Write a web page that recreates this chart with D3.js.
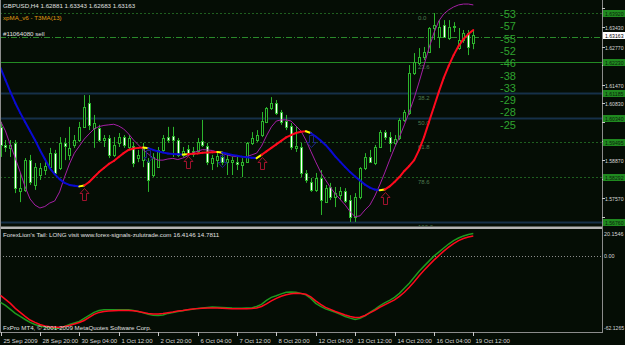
<!DOCTYPE html>
<html>
<head>
<meta charset="utf-8">
<script src="https://cdnjs.cloudflare.com/ajax/libs/d3/7.8.5/d3.min.js"></script>
<style>
  body { margin: 0; background: #050d05; }
  svg { display: block; font-family: "Liberation Sans", Arial, sans-serif; }
</style>
</head>
<body>
<script>
// GBPUSD H4, 25 Sep 2009 12:00 .. 19 Oct 2009 12:00 (97 bars)
var symbol = "GBPUSD,H4";
var timeLabels = ["25 Sep 2009", "28 Sep 20:00", "30 Sep 04:00", "1 Oct 12:00", "2 Oct 20:00",
    "6 Oct 04:00", "7 Oct 12:00", "8 Oct 20:00", "12 Oct 04:00", "13 Oct 12:00",
    "14 Oct 20:00", "16 Oct 04:00", "19 Oct 12:00"];
var priceTicks = [1.64090, 1.63430, 1.62770, 1.62130, 1.61470, 1.60830, 1.60170,
    1.59530, 1.58870, 1.58230, 1.57570, 1.56930];

var open = [1.6002, 1.5940, 1.5930, 1.5947, 1.5782, 1.5786, 1.5888, 1.5803, 1.5837, 1.5854,
    1.5864, 1.5912, 1.5861, 1.5947, 1.5906, 1.5940, 1.5957, 1.6002, 1.6084, 1.5998,
    1.5998, 1.5957, 1.5964, 1.5906, 1.5947, 1.5967, 1.5933, 1.5936, 1.5895, 1.5888,
    1.5881, 1.5837, 1.5864, 1.5923, 1.5967, 1.5971, 1.5957, 1.5906, 1.5926, 1.5919,
    1.5919, 1.5954, 1.5936, 1.5878, 1.5888, 1.5899, 1.5881, 1.5881, 1.5881, 1.5871,
    1.5881, 1.5947, 1.5957, 1.5974, 1.6019, 1.6067, 1.6084, 1.6053, 1.6022, 1.6005,
    1.5930, 1.5933, 1.5844, 1.5813, 1.5786, 1.5827, 1.5744, 1.5796, 1.5761, 1.5768,
    1.5782, 1.5751, 1.5693, 1.5761, 1.5861, 1.5899, 1.5878, 1.5933, 1.5984, 1.5967,
    1.5947, 1.5964, 1.6026, 1.6050, 1.6186, 1.6221, 1.6241, 1.6259, 1.6341, 1.6310,
    1.6351, 1.6307, 1.6348, 1.6272, 1.6300, 1.6324, 1.62881];
var high = [1.6019, 1.5957, 1.5957, 1.5957, 1.5844, 1.5895, 1.5906, 1.5878, 1.5878, 1.5881,
    1.5930, 1.5923, 1.5967, 1.5964, 1.6002, 1.5974, 1.6019, 1.6111, 1.6111, 1.6043,
    1.6009, 1.5974, 1.5974, 1.5967, 1.5981, 1.5974, 1.5974, 1.5950, 1.5923, 1.5947,
    1.5895, 1.5912, 1.5933, 1.5974, 1.6002, 1.6002, 1.5964, 1.5933, 1.5940, 1.5933,
    1.5964, 1.6026, 1.5947, 1.5906, 1.5912, 1.5912, 1.5906, 1.5899, 1.5899, 1.5895,
    1.5950, 1.5984, 1.5991, 1.6053, 1.6070, 1.6104, 1.6094, 1.6060, 1.6043, 1.6015,
    1.6002, 1.5947, 1.5854, 1.5827, 1.5844, 1.5854, 1.5803, 1.5810, 1.5796, 1.5796,
    1.5792, 1.5768, 1.5775, 1.5864, 1.5912, 1.5923, 1.5940, 1.5991, 1.5991, 1.5984,
    1.5974, 1.6032, 1.6060, 1.6214, 1.6255, 1.6272, 1.6276, 1.6344, 1.6392, 1.6368,
    1.6368, 1.6368, 1.6361, 1.6341, 1.6334, 1.6334, 1.63343];
var low = [1.5899, 1.5916, 1.5899, 1.5775, 1.5744, 1.5779, 1.5803, 1.5786, 1.5820, 1.5837,
    1.5854, 1.5837, 1.5854, 1.5888, 1.5888, 1.5930, 1.5950, 1.5998, 1.5991, 1.5930,
    1.5950, 1.5933, 1.5895, 1.5899, 1.5933, 1.5930, 1.5923, 1.5864, 1.5881, 1.5864,
    1.5779, 1.5830, 1.5861, 1.5916, 1.5947, 1.5899, 1.5899, 1.5899, 1.5906, 1.5899,
    1.5912, 1.5933, 1.5871, 1.5854, 1.5864, 1.5871, 1.5837, 1.5837, 1.5854, 1.5830,
    1.5878, 1.5940, 1.5950, 1.5967, 1.6015, 1.6060, 1.6043, 1.6009, 1.5991, 1.5923,
    1.5916, 1.5830, 1.5810, 1.5779, 1.5779, 1.5700, 1.5741, 1.5751, 1.5727, 1.5751,
    1.5741, 1.5676, 1.5676, 1.5754, 1.5854, 1.5878, 1.5871, 1.5930, 1.5957, 1.5916,
    1.5940, 1.5957, 1.6019, 1.6043, 1.6180, 1.6214, 1.6231, 1.6255, 1.6300, 1.6272,
    1.6307, 1.6300, 1.6327, 1.6266, 1.6290, 1.6248, 1.62683];
var close = [1.5940, 1.5933, 1.5940, 1.5792, 1.5792, 1.5888, 1.5813, 1.5864, 1.5861, 1.5868,
    1.5912, 1.5844, 1.5947, 1.5936, 1.5930, 1.5957, 1.6002, 1.6070, 1.6009, 1.6015,
    1.5957, 1.5964, 1.5906, 1.5940, 1.5967, 1.5940, 1.5964, 1.5878, 1.5906, 1.5930,
    1.5820, 1.5899, 1.5923, 1.5964, 1.5957, 1.5957, 1.5906, 1.5919, 1.5912, 1.5909,
    1.5950, 1.5940, 1.5881, 1.5895, 1.5902, 1.5881, 1.5892, 1.5888, 1.5875, 1.5881,
    1.5947, 1.5964, 1.5974, 1.6022, 1.6067, 1.6084, 1.6050, 1.6019, 1.6002, 1.5933,
    1.5936, 1.5844, 1.5820, 1.5786, 1.5827, 1.5751, 1.5792, 1.5761, 1.5775, 1.5782,
    1.5748, 1.5693, 1.5761, 1.5861, 1.5899, 1.5881, 1.5933, 1.5984, 1.5967, 1.5947,
    1.5960, 1.6026, 1.6053, 1.6186, 1.6224, 1.6241, 1.6259, 1.6341, 1.6351, 1.6344,
    1.6310, 1.6344, 1.6344, 1.6300, 1.6324, 1.6276, 1.63163];

// xpMA_v6 - T3MA(13)
var t3ma = [1.6204, 1.6163, 1.6122, 1.6084, 1.6050, 1.6019, 1.5988, 1.5957, 1.5923, 1.5892,
    1.5861, 1.5840, 1.5823, 1.5810, 1.5803, 1.5800, 1.5798, 1.5801, 1.5813, 1.5830,
    1.5847, 1.5861, 1.5875, 1.5885, 1.5899, 1.5912, 1.5923, 1.5928, 1.5930, 1.5931,
    1.5929, 1.5923, 1.5918, 1.5914, 1.5911, 1.5909, 1.5908, 1.5907, 1.5908, 1.5910,
    1.5911, 1.5913, 1.5914, 1.5915, 1.5916, 1.5914, 1.5910, 1.5906, 1.5903, 1.5900,
    1.5898, 1.5896, 1.5895, 1.5906, 1.5918, 1.5930, 1.5942, 1.5954, 1.5966, 1.5974,
    1.5981, 1.5985, 1.5987, 1.5981, 1.5969, 1.5955, 1.5940, 1.5921, 1.5900, 1.5882,
    1.5864, 1.5847, 1.5832, 1.5818, 1.5804, 1.5794, 1.5787, 1.5785, 1.5787, 1.5798,
    1.5813, 1.5830, 1.5851, 1.5868, 1.5888, 1.5923, 1.5967, 1.6019, 1.6070, 1.6122,
    1.6170, 1.6211, 1.6248, 1.6279, 1.6303, 1.6320, 1.6334];

// fast magenta average
var xpma = [1.6022, 1.5988, 1.5940, 1.5895, 1.5847, 1.5796, 1.5755, 1.5734, 1.5724, 1.5729,
    1.5741, 1.5748, 1.5779, 1.5830, 1.5875, 1.5912, 1.5936, 1.5960, 1.5978, 1.5995,
    1.6003, 1.6007, 1.6009, 1.6011, 1.6005, 1.5995, 1.5978, 1.5957, 1.5940, 1.5923,
    1.5909, 1.5895, 1.5888, 1.5888, 1.5892, 1.5894, 1.5890, 1.5895, 1.5902, 1.5912,
    1.5919, 1.5924, 1.5923, 1.5921, 1.5916, 1.5911, 1.5906, 1.5902, 1.5900, 1.5900,
    1.5900, 1.5906, 1.5912, 1.5936, 1.5971, 1.6002, 1.6022, 1.6026, 1.6026, 1.6022,
    1.6005, 1.5988, 1.5957, 1.5919, 1.5882, 1.5847, 1.5820, 1.5794, 1.5772, 1.5753,
    1.5734, 1.5711, 1.5694, 1.5697, 1.5717, 1.5734, 1.5765, 1.5803, 1.5844, 1.5888,
    1.5930, 1.5967, 1.6009, 1.6053, 1.6101, 1.6156, 1.6214, 1.6272, 1.6324, 1.6365,
    1.6389, 1.6403, 1.6413, 1.6420, 1.6423, 1.6423, 1.6420];

// ForexLion's Tail
var tailGreen = [-38.3, -40.7, -44.0, -47.3, -49.8, -52.3, -54.7, -56.4, -57.6, -58.4,
    -59.1, -59.4, -59.2, -58.0, -56.4, -55.1, -53.9, -51.4, -49.0, -46.5,
    -44.9, -44.4, -44.4, -44.3, -44.3, -44.4, -44.4, -44.9, -45.7, -46.9,
    -48.1, -48.8, -49.0, -48.6, -47.3, -46.5, -45.7, -45.1, -44.4, -43.9,
    -43.2, -42.8, -42.4, -42.1, -42.2, -42.4, -42.6, -42.9, -43.0, -43.0,
    -42.9, -42.8, -41.6, -39.9, -36.6, -34.2, -32.9, -31.3, -30.0, -29.8,
    -30.0, -30.9, -32.1, -35.0, -39.1, -41.6, -43.6, -44.9, -46.5, -48.1,
    -49.8, -51.2, -52.3, -51.4, -49.4, -46.5, -44.0, -41.1, -38.7, -36.6,
    -34.2, -30.9, -26.7, -22.6, -17.7, -12.8, -8.6, -4.5, -0.4, 2.9,
    6.2, 9.5, 12.3, 14.4, 16.0, 17.3, 18.1];
var tailRed = [-32.5, -35.8, -39.1, -43.2, -46.5, -49.8, -52.7, -54.7, -56.4, -57.6,
    -58.3, -58.7, -58.6, -58.0, -57.2, -56.0, -54.7, -53.1, -50.6, -48.1,
    -46.5, -45.7, -45.3, -45.1, -44.9, -44.9, -44.9, -45.1, -45.7, -46.5,
    -47.3, -47.7, -47.7, -47.3, -46.7, -46.1, -45.4, -44.9, -44.3, -43.8,
    -43.4, -43.0, -42.9, -42.9, -42.9, -43.1, -43.3, -43.4, -43.4, -43.4,
    -43.4, -43.2, -42.8, -41.6, -39.5, -37.0, -35.0, -33.3, -32.1, -31.3,
    -30.9, -31.0, -31.7, -33.7, -37.0, -39.9, -42.4, -44.0, -45.7, -47.2,
    -48.6, -49.8, -50.6, -50.4, -49.0, -46.9, -44.9, -42.4, -40.3, -38.3,
    -36.2, -33.3, -30.0, -25.9, -21.4, -16.5, -11.9, -7.8, -3.7, 0.0,
    3.7, 7.0, 9.9, 12.3, 14.0, 15.2, 16.0];
var tailText = "16.4146 14.7811";
var subTicks = [20.1546, 0, -62.1265];

// Fibonacci retracement 1.6392 -> 1.5676
var fibHigh = 1.6392, fibLow = 1.5676;
var fibLevels = [0, 23.6, 38.2, 50, 61.8, 78.6, 100];
var orderPrice = 1.6310;
var orderText = "#11064080 sell";
var strength = [-53, -57, -55, -52, -46, -38, -33, -29, -28, -25];

function init() {
    var w = 625, h = 345;
    var bg = "#050d05";
    var axisX = 602;
    var step = 4.925;   // pixels per bar
    var fmt5 = d3.format(".5f");

    var svg = d3.select("body").append("svg")
        .attr("width", w)
        .attr("height", h);
    svg.append("rect").attr("width", w).attr("height", h).attr("fill", bg);

    var x = d3.scaleLinear().domain([0, 1]).range([0.5, 0.5 + step]);
    var y = d3.scaleLinear().domain([1.56622, 1.64369]).range([226, 0]);
    var ySub = d3.scaleLinear().domain([-62.1265, 20.1546]).range([331.5, 231]);

    svg.append("clipPath").attr("id", "main")
        .append("rect").attr("x", 1).attr("y", 0).attr("width", axisX - 1).attr("height", 226);
    var main = svg.append("g").attr("clip-path", "url(#main)");

    // fibo lines
    var fibStyle = {
        "0": ["#1f5f1f", 1, "2,2"], "23.6": ["#238a23", 1, null], "38.2": ["#163049", 2, null],
        "50": ["#163049", 2, null], "61.8": ["#1f5f1f", 1, "2,2"], "78.6": ["#1f5f1f", 1, "2,2"],
        "100": ["#163049", 2, null]
    };
    var fibPrice = function(r) { return fibHigh - r / 100 * (fibHigh - fibLow); };

    fibLevels.forEach(function(r) {
        var st = fibStyle[String(r)];
        var yy = Math.round(y(fibPrice(r))) + 0.5;
        main.append("line")
            .attr("x1", 0).attr("x2", axisX).attr("y1", yy).attr("y2", yy)
            .attr("stroke", st[0]).attr("stroke-width", st[1])
            .attr("stroke-dasharray", st[2]);
        main.append("text")
            .attr("x", 418).attr("y", yy + 6.5)
            .attr("font-size", 6).attr("fill", "#4f7a4f")
            .text(r === 0 ? "0.0" : r.toFixed(1));
    });

    // order line
    var oy = Math.round(y(orderPrice)) + 0.5;
    main.append("line")
        .attr("x1", 0).attr("x2", axisX).attr("y1", oy).attr("y2", oy)
        .attr("stroke", "#2a8a2a").attr("stroke-dasharray", "6,2,1,2");

    // candles
    var green = "#2cb42c";
    var bars = main.selectAll("g.bar").data(open).enter().append("g").attr("class", "bar");
    bars.append("line")
        .attr("x1", function(d, i) { return Math.round(x(i)) + 0.5; })
        .attr("x2", function(d, i) { return Math.round(x(i)) + 0.5; })
        .attr("y1", function(d, i) { return y(high[i]); })
        .attr("y2", function(d, i) { return y(low[i]); })
        .attr("stroke", green);
    bars.append("rect")
        .attr("x", function(d, i) { return Math.round(x(i)) - 0.5; })
        .attr("width", 2)
        .attr("y", function(d, i) { return Math.round(y(Math.max(open[i], close[i]))) + 0.5; })
        .attr("height", function(d, i) {
            return Math.max(1, Math.round(Math.abs(y(open[i]) - y(close[i]))));
        })
        .attr("fill", function(d, i) { return close[i] >= open[i] ? bg : "#ffffff"; })
        .attr("stroke", green);

    // magenta average
    main.append("path")
        .datum(xpma)
        .attr("d", d3.line().x(function(d, i) { return x(i); }).y(function(d) { return y(d); }))
        .attr("fill", "none").attr("stroke", "#a51fa5").attr("stroke-width", 1);

    // T3MA coloured by slope, yellow on turns
    var dir = t3ma.map(function(v, i) { return i === 0 ? -1 : (v > t3ma[i - 1] ? 1 : -1); });
    for (var i = 1; i < t3ma.length; i++) {
        var col = dir[i] !== dir[i - 1] ? "#ffff00" : (dir[i] > 0 ? "#ff0a1e" : "#0a0ad2");
        main.append("line")
            .attr("x1", x(i - 1)).attr("y1", y(t3ma[i - 1]))
            .attr("x2", x(i)).attr("y2", y(t3ma[i]))
            .attr("stroke", col).attr("stroke-width", 2).attr("stroke-linecap", "round");
    }

    // signal arrows at turns
    for (var j = 1; j < t3ma.length; j++) {
        if (dir[j] === dir[j - 1]) continue;
        var cx = Math.round(x(j)) + 0.5, ty = Math.round(y(t3ma[j])) + 2.5;
        var pts = dir[j] > 0
            ? [[0, 0], [4.5, 5], [2, 5], [2, 12], [-2, 12], [-2, 5], [-4.5, 5]]
            : [[-2, 0], [2, 0], [2, 7], [4.5, 7], [0, 12], [-4.5, 7], [-2, 7]];
        main.append("path")
            .attr("d", "M" + pts.map(function(p) { return (cx + p[0]) + "," + (ty + p[1]); }).join("L") + "Z")
            .attr("fill", "none")
            .attr("stroke", dir[j] > 0 ? "#a0122e" : "#1c2486")
            .attr("stroke-width", 1);
    }

    // strength column
    svg.selectAll("text.str").data(strength).enter().append("text")
        .attr("class", "str")
        .attr("x", 500).attr("y", function(d, k) { return 18 + k * 12.3; })
        .attr("font-size", 11).attr("fill", "#2fa32f")
        .text(function(d) { return d; });

    // header texts
    svg.append("text").attr("x", 3).attr("y", 8).attr("font-size", 6.2).attr("fill", "#e0e0e0")
        .text(symbol + " " + [open[96], high[96], low[96], close[96]].map(fmt5).join(" "));
    svg.append("text").attr("x", 3).attr("y", 20).attr("font-size", 6.2).attr("fill", "#e09a12")
        .text("xpMA_v6 - T3MA(13)");
    svg.append("text").attr("x", 3).attr("y", oy - 2).attr("font-size", 6.2).attr("fill", "#e0e0e0")
        .text(orderText);

    // frame
    svg.append("rect").attr("x", 0).attr("y", 226.5).attr("width", axisX + 1).attr("height", 2.5)
        .attr("fill", "#b4b4b4");
    svg.append("line").attr("x1", axisX + 0.5).attr("x2", axisX + 0.5).attr("y1", 0).attr("y2", 332)
        .attr("stroke", "#8c8c8c");
    svg.append("line").attr("x1", 0.5).attr("x2", 0.5).attr("y1", 0).attr("y2", 332)
        .attr("stroke", "#8c8c8c");
    svg.append("line").attr("x1", 0).attr("x2", axisX + 1).attr("y1", 332.5).attr("y2", 332.5)
        .attr("stroke", "#8c8c8c");

    // price axis
    var pa = svg.append("g");
    var boxYs = fibLevels.map(function(r) { return y(fibPrice(r)); }).concat([y(close[96])]);
    function axisText(g, txt, yy, fill, len) {
        return g.append("text").attr("x", axisX + 3).attr("y", yy + 2)
            .attr("font-size", 5.6).attr("fill", fill)
            .attr("textLength", len || 18.5).attr("lengthAdjust", "spacingAndGlyphs")
            .text(txt);
    }
    priceTicks.forEach(function(p) {
        var yy = Math.round(y(p)) + 0.5;
        pa.append("line").attr("x1", axisX).attr("x2", axisX + 3).attr("y1", yy).attr("y2", yy)
            .attr("stroke", "#c8c8c8");
        var near = boxYs.some(function(b) { return Math.abs(b - yy) < 6.5; });
        if (!near) axisText(pa, fmt5(p), yy, "#d8d8d8");
    });
    fibLevels.forEach(function(r) {
        var yy = Math.round(y(fibPrice(r)));
        pa.append("rect").attr("x", axisX + 1).attr("y", yy - 3).attr("width", 22).attr("height", 7)
            .attr("fill", "#1f8a1f");
        axisText(pa, fmt5(fibPrice(r)), yy + 0.5, "#0c1c0c");
    });
    var cy = Math.round(y(close[96]));
    pa.append("rect").attr("x", axisX + 1).attr("y", cy - 3).attr("width", 22).attr("height", 7)
        .attr("fill", "#ffffff");
    axisText(pa, fmt5(close[96]), cy + 0.5, "#000000");

    // lower pane
    var sub = svg.append("g");
    var zy = Math.round(ySub(0)) + 0.5;
    sub.append("line").attr("x1", 0).attr("x2", axisX).attr("y1", zy).attr("y2", zy)
        .attr("stroke", "#8c8c8c").attr("stroke-dasharray", "1,2");
    var subLine = d3.line().x(function(d, i) { return x(i); }).y(function(d) { return ySub(d); });
    sub.append("path").datum(tailGreen).attr("d", subLine)
        .attr("fill", "none").attr("stroke", "#1e9a1e").attr("stroke-width", 1.5);
    sub.append("path").datum(tailRed).attr("d", subLine)
        .attr("fill", "none").attr("stroke", "#ff0a1e").attr("stroke-width", 1.5);
    sub.append("text").attr("x", 3).attr("y", 237).attr("font-size", 6.2).attr("fill", "#e0e0e0")
        .text("ForexLion's Tail: LONG visit www.forex-signals-zulutrade.com  " + tailText);
    sub.append("text").attr("x", 3).attr("y", 330).attr("font-size", 6.2).attr("fill", "#e0e0e0")
        .text("FxPro MT4, \u00a9 2001-2009 MetaQuotes Software Corp.");
    subTicks.forEach(function(v, k) {
        var yy = k === 0 ? 234 : (k === 2 ? 328 : ySub(v));
        sub.append("text").attr("x", axisX + 2).attr("y", yy + 2)
            .attr("font-size", v < 0 ? 5.1 : 5.4).attr("fill", "#d8d8d8")
            .text(v === 0 ? "0.00" : String(v));
    });

    // time axis
    var ta = svg.append("g");
    timeLabels.forEach(function(t, k) {
        var tx = Math.round(x(k * 8)) + 0.5;
        ta.append("line").attr("x1", tx).attr("x2", tx).attr("y1", 332).attr("y2", 336)
            .attr("stroke", "#c8c8c8");
        ta.append("text").attr("x", tx + 2).attr("y", 342.5).attr("font-size", 6)
            .attr("fill", "#d8d8d8").text(t);
    });
}

window.onload = init;
</script>
</body>
</html>
